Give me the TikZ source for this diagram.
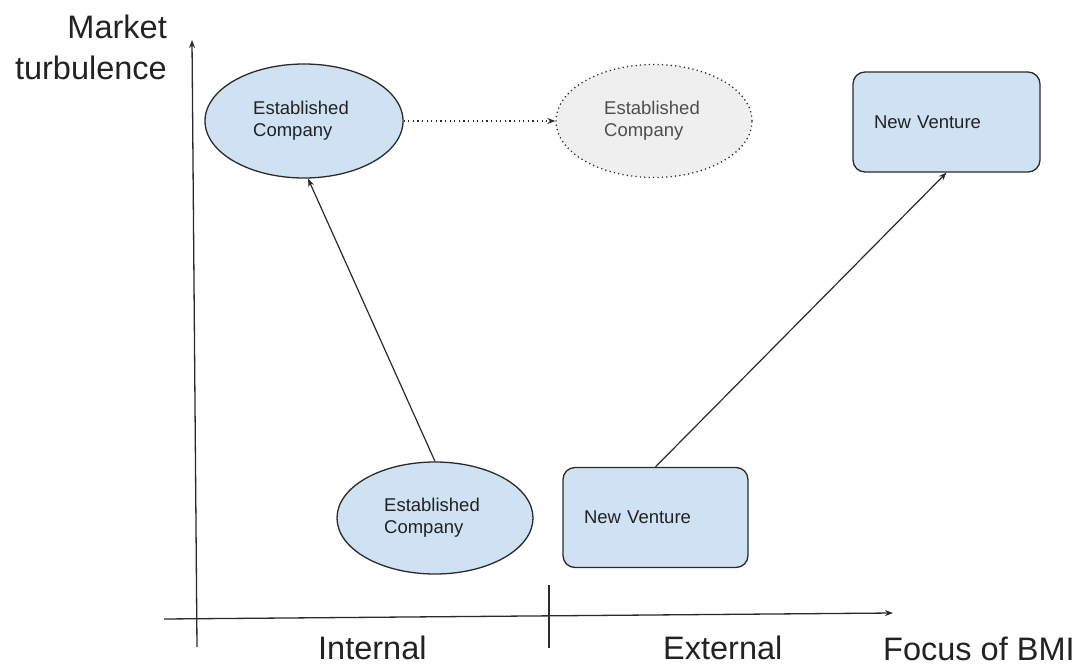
\documentclass[tikz,border=0pt]{standalone}
\usepackage{fontspec}
\setmainfont{Liberation Sans}
\usetikzlibrary{shapes.geometric,arrows.meta}
\definecolor{paleblue}{HTML}{CFE2F3}
\definecolor{palegray}{HTML}{EFEFEF}
\definecolor{ink}{HTML}{222222}
\definecolor{linecol}{HTML}{2A2A2A}
\tikzset{
  every node/.style={text=ink},
  axis/.style={draw=linecol, line width=1.3pt},
  tip/.style={-{Stealth[length=8pt,width=6pt]}},
  bigtxt/.style={font=\fontsize{32.5}{41}\selectfont},
  smalltxt/.style={font=\fontsize{18.5}{22}\selectfont, align=left},
  firm/.style={ellipse, draw=linecol, line width=1.3pt, fill=paleblue,
    minimum width=198pt, minimum height=114pt, inner sep=0pt, smalltxt},
  ghostfirm/.style={ellipse, draw=linecol, line width=1.3pt, fill=palegray,
    dash pattern=on 1.2pt off 3.2pt, minimum width=196pt, minimum height=113pt,
    inner sep=0pt, smalltxt, text=ink!80},
  venture/.style={rectangle, rounded corners=12pt, draw=linecol, line width=1.3pt,
    fill=paleblue, minimum height=100pt, inner xsep=21pt, smalltxt},
  link/.style={draw=linecol, line width=1.2pt, tip},
}
\begin{document}
\begin{tikzpicture}[x=1pt, y=-1pt]
\useasboundingbox (0,0) rectangle (1081,666);

% axes
\coordinate (yb) at (197,647);
\coordinate (yt) at (192,40);
\coordinate (xl) at (164,619);
\coordinate (xr) at (893,613);
\coordinate (dt) at (549,585);
\coordinate (db) at (549,648);
\draw[axis, tip] (yb) -- (yt);
\draw[axis, tip] (xl) -- (xr);
\draw[axis] (dt) -- (db);

% axis labels (base anchor sits on the last line)
\node[bigtxt, align=right, anchor=base east, inner sep=0pt] (ylab) at (167,80)
  {Market\\turbulence};
\node[bigtxt, anchor=base west, inner sep=0pt] (lint) at (318,659) {Internal};
\node[bigtxt, anchor=base west, inner sep=0pt] (lext) at (663,659) {External};
\node[bigtxt, anchor=base west, inner sep=0pt] (lfoc) at (883,660) {Focus of BMI};

% firms and ventures
\node[firm] (ectop) at (304,121) {\hspace*{-6pt}Established\\\hspace*{-6pt}Company};
\node[ghostfirm] (ecghost) at (654,121) {\hspace*{-4pt}Established\\\hspace*{-4pt}Company};
\node[firm, minimum width=196pt, minimum height=112pt] (ecbot) at (435,518) {\hspace*{-6pt}Established\\\hspace*{-6pt}Company};
\node[venture, minimum width=187pt, text width=145pt] (nvtop) at (946.5,122) {New Venture};
\node[venture, minimum width=185pt, text width=143pt] (nvbot) at (655.5,517.5) {New Venture};

% transitions
\draw[link] (ecbot.north) -- (ectop.-86);
\draw[link] (nvbot.north) -- (nvtop.south);
\draw[link, dash pattern=on 1.2pt off 3.4pt] (ectop.east) -- (ecghost.west);
\end{tikzpicture}
\end{document}
